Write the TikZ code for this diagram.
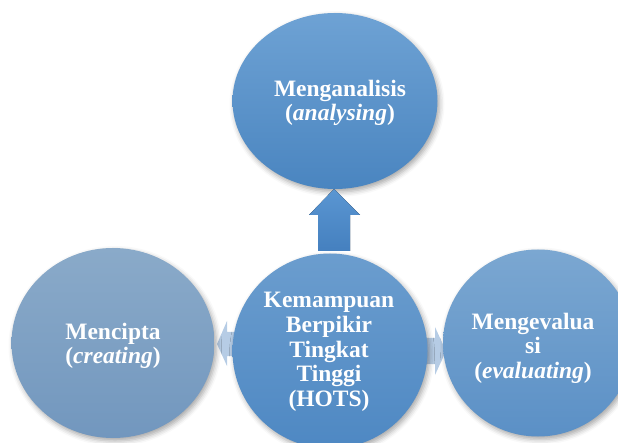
\documentclass[tikz,border=0pt]{standalone}
\usepackage{fontspec}
\setmainfont{Liberation Serif}
\usetikzlibrary{shapes.geometric,shadows.blur}
\definecolor{topA}{HTML}{6EA2D4}
\definecolor{topB}{HTML}{4A85C0}
\definecolor{cenA}{HTML}{6B9DCE}
\definecolor{cenB}{HTML}{4E88C3}
\definecolor{leftA}{HTML}{8AAAC9}
\definecolor{leftB}{HTML}{7297BE}
\definecolor{rightA}{HTML}{7BA7D1}
\definecolor{rightB}{HTML}{5B90C6}
\definecolor{arrA}{HTML}{5A96D2}
\definecolor{arrB}{HTML}{4580BF}
\definecolor{smallarr}{HTML}{A9C3E0}
\begin{document}
\begin{tikzpicture}[x=1pt,y=-1pt,
  bubble/.style={ellipse, inner sep=0pt, draw=none,
    blur shadow={shadow xshift=2pt, shadow yshift=-3pt, shadow blur radius=5pt, shadow opacity=35}},
  label/.style={text=white, align=center, inner sep=0pt,
    font=\bfseries\fontsize{23.5}{24.6}\selectfont},
  blockarrow/.style={draw=none}]
\useasboundingbox (0,0) rectangle (618,443);
\clip (0,0) rectangle (618,443);
% small side arrows
\coordinate (la) at (217,344);
\coordinate (ra) at (446,351);
\fill[smallarr, opacity=0.85] (la) -- (227,321) -- (227,332) -- (236,332) -- (236,356) -- (227,356) -- (227,366) -- cycle;
\fill[smallarr, opacity=0.85] (ra) -- (435,327) -- (435,338) -- (424,338) -- (424,364) -- (435,364) -- (435,375) -- cycle;
% bubbles
\node[bubble, minimum width=203pt, minimum height=190pt, top color=leftA, bottom color=leftB] (create) at (113,343) {};
\node[bubble, minimum width=190pt, minimum height=187pt, top color=rightA, bottom color=rightB] (eval) at (538,343) {};
\node[bubble, minimum width=195pt, minimum height=195pt, top color=cenA, bottom color=cenB] (hots) at (330,351) {};
\node[bubble, minimum width=205pt, minimum height=176pt, top color=topA, bottom color=topB] (anal) at (335,101) {};
% up arrow
\fill[top color=arrA, bottom color=arrB] (318,251) -- (318,215) -- (309,215) -- (334,189) -- (360,215) -- (350,215) -- (350,251) -- cycle;
% labels
\node[label] (tanal) at (340,103) {Menganalisis\\(\textit{analysing})};
\node[label] (thots) at (329,352) {Kemampuan\\Berpikir\\Tingkat\\Tinggi\\(HOTS)};
\node[label] (tcreate) at (113,346) {Mencipta\\(\textit{creating})};
\node[label] (teval) at (533,348) {Mengevalua\\si\\(\textit{evaluating})};
\end{tikzpicture}
\end{document}
